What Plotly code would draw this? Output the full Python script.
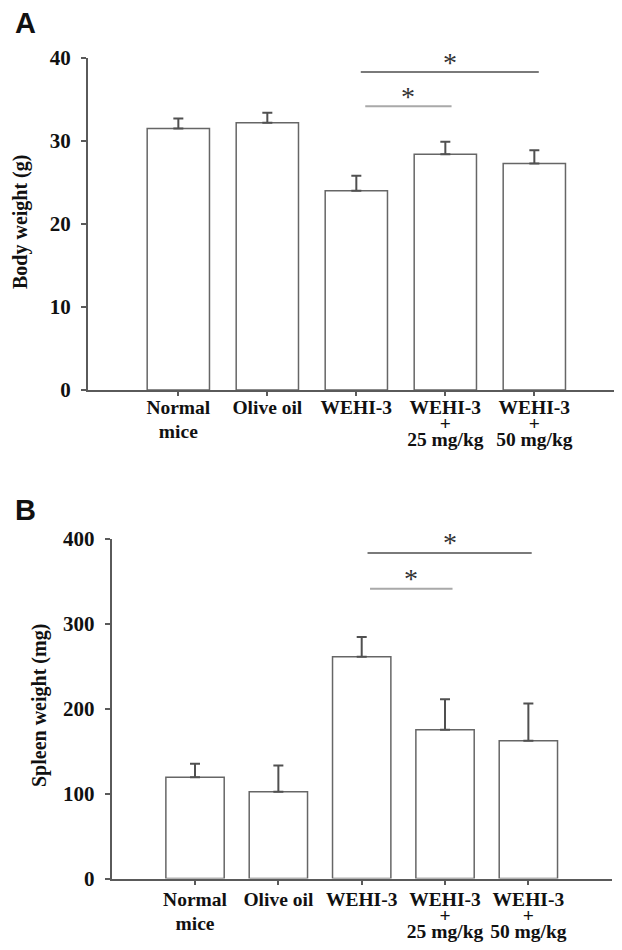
import plotly.graph_objects as go

# ---------------- data ----------------
categories = ["Normal mice", "Olive oil", "WEHI-3", "WEHI-3 + 25 mg/kg", "WEHI-3 + 50 mg/kg"]
tick_label_lines = [["Normal", "mice"], ["Olive oil"], ["WEHI-3"],
                    ["WEHI-3", "+", "25 mg/kg"], ["WEHI-3", "+", "50 mg/kg"]]

body_weight = [31.5, 32.2, 24.0, 28.4, 27.3]
body_weight_err = [1.2, 1.2, 1.8, 1.5, 1.6]

spleen_weight = [119, 102, 261, 175, 162]
spleen_weight_err = [16, 31, 23, 36, 44]

body_ticks = [0, 10, 20, 30, 40]
spleen_ticks = [0, 100, 200, 300, 400]

# significant comparisons: (from category, to category)
sig_pairs = [("WEHI-3", "WEHI-3 + 50 mg/kg"), ("WEHI-3", "WEHI-3 + 25 mg/kg")]

# ---------------- style ----------------
OFF = 8                      # page body margin around the plot div
W, H = 622 - OFF, 950 - OFF
SERIF = "Liberation Serif, Times New Roman, serif"
SANS = "Liberation Sans, Arial, sans-serif"
AXIS_COL = "#5a5a5a"
BAR_LINE = "#666666"
ERR_COL = "#505050"

SPAN = '<span style="font-size:19.5px">{}</span>'


def build_ticktext(lines):
    # tight line pitch for the "+" stacks, looser for two-line labels
    sep = "<br><br><br>" if len(lines) == 2 else "<br><br>"
    return sep.join(SPAN.format(t) for t in lines)


ticktext = [build_ticktext(l) for l in tick_label_lines]


def px_x(p):
    return (p - OFF) / W


def px_y(p):
    return 1 - (p - OFF) / H


fig = go.Figure()

for vals, errs, xa, ya in [(body_weight, body_weight_err, "x", "y"),
                           (spleen_weight, spleen_weight_err, "x2", "y2")]:
    fig.add_trace(go.Bar(
        x=categories, y=vals, width=0.7,
        marker=dict(color="white", line=dict(color=BAR_LINE, width=1.5)),
        error_y=dict(type="data", symmetric=False, array=errs,
                     arrayminus=[0] * len(errs), color=ERR_COL,
                     thickness=2, width=5),
        xaxis=xa, yaxis=ya, showlegend=False, hoverinfo="x+y",
    ))

common_x = dict(showline=True, linecolor=AXIS_COL, linewidth=2, ticks="outside",
                ticklen=4, tickwidth=1.5, tickcolor=AXIS_COL, showgrid=False,
                zeroline=False, tickangle=0, automargin=False,
                tickvals=categories, ticktext=ticktext,
                tickfont=dict(family=SERIF, size=6.15, color="#111", weight="bold"))
common_y = dict(showline=True, linecolor=AXIS_COL, linewidth=2, ticks="outside",
                ticklen=5, tickwidth=1.5, tickcolor=AXIS_COL, showgrid=False,
                zeroline=False, automargin=False, ticklabelstandoff=6,
                tickfont=dict(family=SERIF, size=21, color="#111", weight="bold"))

fig.update_layout(
    width=W, height=H, margin=dict(l=0, r=0, t=0, b=0),
    paper_bgcolor="white", plot_bgcolor="white", barmode="group",
    xaxis=dict(common_x, domain=[px_x(88), 1.0], range=[-1.015, 4.985],
               anchor="y", ticklabelstandoff=11),
    yaxis=dict(common_y, domain=[px_y(390), px_y(58)], range=[0, 40],
               tickvals=body_ticks, anchor="x"),
    xaxis2=dict(common_x, domain=[px_x(111.7), px_x(611.7)], range=[-1.0, 5.0],
                anchor="y2", ticklabelstandoff=14),
    yaxis2=dict(common_y, domain=[px_y(878.5), px_y(538.5)], range=[0, 400],
                tickvals=spleen_ticks, anchor="x2"),
)

# significance bars with asterisks
sig_style = {
    "x": dict(heights=[38.3, 34.2], offsets=[(0.05, 0.05), (0.10, 0.07)]),
    "x2": dict(heights=[383, 341], offsets=[(0.07, 0.04), (0.10, 0.09)]),
}
line_cols = ["#7a7a7a", "#a9a9a9"]
for xa, ya in [("x", "y"), ("x2", "y2")]:
    st = sig_style[xa]
    for k, (a, b) in enumerate(sig_pairs):
        i0 = categories.index(a) + st["offsets"][k][0]
        i1 = categories.index(b) + st["offsets"][k][1]
        yv = st["heights"][k]
        fig.add_shape(type="line", xref=xa, yref=ya, x0=i0, x1=i1, y0=yv, y1=yv,
                      line=dict(color=line_cols[k], width=2))
        fig.add_annotation(xref=xa, yref=ya, x=(i0 + i1) / 2, y=yv, text="*",
                           showarrow=False, xanchor="center", yanchor="middle",
                           yshift=10,
                           font=dict(family=SERIF, size=28, color="#333"))

# y-axis titles
fig.add_annotation(xref="paper", yref="paper", x=px_x(21), y=px_y(222),
                   xanchor="center", yanchor="middle",
                   text="Body weight (g)", textangle=-90, showarrow=False,
                   font=dict(family=SERIF, size=20, color="#111", weight="bold"))
fig.add_annotation(xref="paper", yref="paper", x=px_x(39), y=px_y(706),
                   xanchor="center", yanchor="middle",
                   text="Spleen weight (mg)", textangle=-90, showarrow=False,
                   font=dict(family=SERIF, size=20, color="#111", weight="bold"))

# panel letters
fig.add_annotation(xref="paper", yref="paper", x=px_x(25), y=px_y(23), text="A",
                   xanchor="center", yanchor="middle", showarrow=False,
                   font=dict(family=SANS, size=29, color="#111", weight="bold"))
fig.add_annotation(xref="paper", yref="paper", x=px_x(25), y=px_y(510), text="B",
                   xanchor="center", yanchor="middle", showarrow=False,
                   font=dict(family=SANS, size=29, color="#111", weight="bold"))

fig.write_html("out.html")
